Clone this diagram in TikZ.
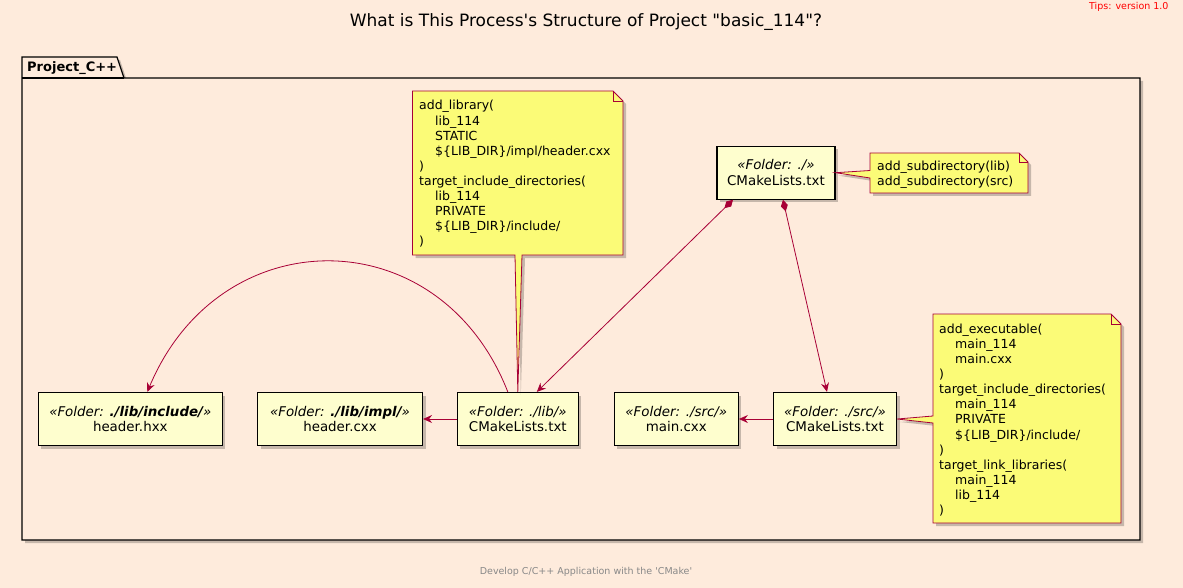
\documentclass[tikz,border=0pt]{standalone}
\usepackage{fontspec}
\setmainfont{DejaVu Sans}[Ligatures=TeXOff]
\usetikzlibrary{arrows.meta,shadows}
\definecolor{bg}{RGB}{254,235,220}
\definecolor{boxfill}{HTML}{FEFECE}
\definecolor{notefill}{HTML}{FBFB77}
\definecolor{edgec}{HTML}{A80036}
\definecolor{foot}{RGB}{136,136,136}
\tikzset{
  shd/.style={drop shadow={shadow xshift=3pt,shadow yshift=-3pt,opacity=0.22,fill=black}},
  folder/.style={draw=black, line width=1.2pt, fill=boxfill, shd, minimum height=53pt, inner sep=0pt, align=center, font=\fontsize{13.4}{15.6}\selectfont},
  notebody/.style={draw=edgec, line width=0.8pt, fill=notefill, shd, line join=miter},
  notefold/.style={draw=edgec, line width=0.8pt},
  notetext/.style={inner sep=0pt, align=left, anchor=west, font=\fontsize{12.5}{15.1}\selectfont},
  link/.style={draw=edgec, line width=0.8pt, -{Stealth[length=9pt,width=8pt,inset=3pt]}},
  comp/.style={draw=edgec, line width=0.8pt, {Diamond[length=12pt,width=7pt]}-{Stealth[length=9pt,width=8pt,inset=3pt]}},
}
\newcommand{\ind}{\hspace*{16pt}}
\begin{document}
\begin{tikzpicture}[x=1pt,y=-1pt]
\fill[bg] (0,0) rectangle (1183,588);
\useasboundingbox (0,0) rectangle (1183,588);

% title, tips, footer
\node[font=\fontsize{17}{20}\selectfont] (title) at (586,22) {What is This Process's Structure of Project "basic\_114"?};
\node[font=\fontsize{9.5}{11}\selectfont, text=red, anchor=east] (tips) at (1172,7) {Tips: version 1.0};
\node[font=\fontsize{9.5}{11}\selectfont, text=foot] (footer) at (586,572) {Develop C/C++ Application with the 'CMake'};

% package frame
\path[draw=black, line width=1.2pt, fill=bg, shd] (22,57) -- (117,57) -- (124,78) -- (1140,78) -- (1140,540) -- (22,540) -- cycle;
\draw[line width=1.2pt] (22,78) -- (124,78);
\node[font=\bfseries\fontsize{13}{15}\selectfont, anchor=west, inner sep=0pt] (pkg) at (27,68) {Project\_C++};

% folder nodes
\node[folder, minimum width=118pt] (root) at (776,172.7) {\textit{«Folder: ./»}\\CMakeLists.txt};
\node[folder, minimum width=184pt] (hxx) at (130.3,419) {\textit{«Folder: \textbf{./lib/include/}»}\\header.hxx};
\node[folder, minimum width=165pt] (cxx) at (340,419) {\textit{«Folder: \textbf{./lib/impl/}»}\\header.cxx};
\node[folder, minimum width=121pt] (libC) at (517.8,419) {\textit{«Folder: ./lib/»}\\CMakeLists.txt};
\node[folder, minimum width=124pt] (main) at (676.3,419) {\textit{«Folder: ./src/»}\\main.cxx};
\node[folder, minimum width=123pt] (srcC) at (835,419) {\textit{«Folder: ./src/»}\\CMakeLists.txt};

% note 1 (lib CMakeLists)
\path[notebody] (412.5,91) -- (613,91) -- (623,101) -- (623,255) -- (522,255) -- (libC.north) -- (515,255) -- (412.5,255) -- cycle;
\draw[notefold] (613,91) -- (613,101) -- (623,101);
\node[notetext] (n1) at (419,174) {add\_library(\\\ind lib\_114\\\ind STATIC\\\ind \$\{LIB\_DIR\}/impl/header.cxx\\)\\target\_include\_directories(\\\ind lib\_114\\\ind PRIVATE\\\ind \$\{LIB\_DIR\}/include/\\)};

% note 2 (root CMakeLists)
\path[notebody] (870,153) -- (1019,153) -- (1028,162) -- (1028,193) -- (870,193) -- (870,178) -- (root.east) -- (870,170.5) -- cycle;
\draw[notefold] (1019,153) -- (1019,162) -- (1028,162);
\node[notetext] (n2) at (877,174.5) {add\_subdirectory(lib)\\add\_subdirectory(src)};

% note 3 (src CMakeLists)
\path[notebody] (933,314) -- (1111,314) -- (1121,324) -- (1121,523) -- (933,523) -- (933,423) -- (srcC.east) -- (933,416) -- cycle;
\draw[notefold] (1111,314) -- (1111,324) -- (1121,324);
\node[notetext] (n3) at (939,420) {add\_executable(\\\ind main\_114\\\ind main.cxx\\)\\target\_include\_directories(\\\ind main\_114\\\ind PRIVATE\\\ind \$\{LIB\_DIR\}/include/\\)\\target\_link\_libraries(\\\ind main\_114\\\ind lib\_114\\)};

% connectors
\draw[comp] ([xshift=-43pt]root.south) -- ([xshift=19pt]libC.north);
\draw[comp] ([xshift=7pt]root.south) -- ([xshift=-8pt]srcC.north);
\draw[link] (libC.west) -- (cxx.east);
\draw[link] (srcC.west) -- (main.east);
\draw[link] ([xshift=-10pt]libC.north) .. controls (440,218) and (220,218) .. ([xshift=17pt]hxx.north);
\end{tikzpicture}
\end{document}
